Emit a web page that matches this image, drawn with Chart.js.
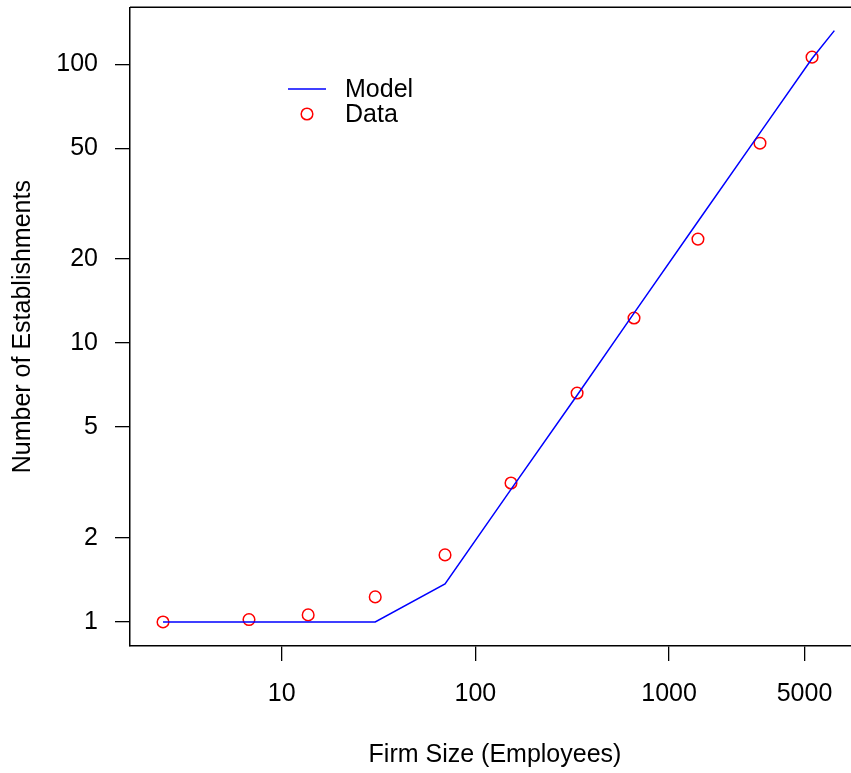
<!DOCTYPE html>
<html>
<head>
<meta charset="utf-8">
<script src="https://cdn.jsdelivr.net/npm/chart.js@4/dist/chart.umd.min.js"></script>
<style>
  html, body { margin: 0; padding: 0; background: #fff; overflow: hidden; }
  canvas { display: block; }
</style>
</head>
<body>
<canvas id="chart" width="851" height="773"></canvas>
<script>
// Observed establishments by firm size
const firmSize       = [2.44, 6.78, 13.7, 30.4, 69.7, 152.7, 335, 659, 1409, 2945, 5470];
const establishments = [1.00, 1.02, 1.06, 1.23, 1.74, 3.15, 6.62, 12.3, 23.6, 52.1, 106];

// Model curve
const modelSize  = [2.44, 6.78, 13.7, 30.4, 69.7, 152.7, 335, 659, 1409, 2945, 5470, 7130];
const modelValue = [1.00, 1.00, 1.00, 1.00, 1.37, 2.99, 6.50, 12.8, 27.3, 56.7, 104.8, 132];

// Axis tick labels
const xTicks = [10, 100, 1000, 5000];
const yTicks = [1, 2, 5, 10, 20, 50, 100];

const seriesNames = ['Model', 'Data'];
const xTitle = 'Firm Size (Employees)';
const yTitle = 'Number of Establishments';
const FONT = 'Liberation Sans, Arial, Helvetica, sans-serif';
const FONT_SIZE = 25;

Chart.defaults.color = '#000';
Chart.defaults.font.family = FONT;

const pairs = (xs, ys) => xs.map((x, i) => ({ x, y: ys[i] }));

// The plot box runs on past the right edge of the canvas: stretch the
// chart area and the x scale to the canvas edge after layout.
const boxPlugin = {
  id: 'box',
  afterLayout(chart) {
    const sx = chart.scales.x;
    const right = chart.width;
    chart.chartArea.right = right;
    chart.chartArea.width = right - chart.chartArea.left;
    sx.right = right;
    sx.width = right - sx.left;
    sx.configure();
  },
  afterDraw(chart) {
    const { ctx, chartArea } = chart;
    ctx.save();
    // top edge of the box
    ctx.strokeStyle = '#000';
    ctx.lineWidth = 1.5;
    ctx.beginPath();
    ctx.moveTo(chartArea.left, chartArea.top);
    ctx.lineTo(chartArea.right, chartArea.top);
    ctx.stroke();

    // x-axis title, centred under the whole box
    ctx.fillStyle = '#000';
    ctx.font = FONT_SIZE + 'px ' + FONT;
    ctx.textAlign = 'center';
    ctx.textBaseline = 'alphabetic';
    ctx.fillText(xTitle, (chartArea.left + chartArea.right + 9) / 2, chart.height - 11);

    // legend block
    const model = chart.data.datasets[0];
    const data = chart.data.datasets[1];
    const lx = 288, ly = 89, gap = 25, textX = 345;
    ctx.strokeStyle = model.borderColor;
    ctx.lineWidth = model.borderWidth;
    ctx.beginPath();
    ctx.moveTo(lx, ly);
    ctx.lineTo(lx + 38, ly);
    ctx.stroke();

    ctx.strokeStyle = data.borderColor;
    ctx.lineWidth = data.borderWidth;
    ctx.beginPath();
    ctx.arc(lx + 19, ly + gap, data.pointRadius, 0, Math.PI * 2);
    ctx.stroke();

    ctx.textBaseline = 'middle';
    ctx.textAlign = 'left';
    ctx.fillText(model.label, textX, ly + 1);
    ctx.fillText(data.label, textX, ly + gap + 1);
    ctx.restore();
  }
};

new Chart(document.getElementById('chart'), {
  type: 'scatter',
  data: {
    datasets: [
      {
        label: seriesNames[0],
        data: pairs(modelSize, modelValue),
        showLine: true,
        borderColor: '#0000ff',
        borderWidth: 1.5,
        pointRadius: 0,
        pointHoverRadius: 0,
        tension: 0,
        fill: false
      },
      {
        label: seriesNames[1],
        data: pairs(firmSize, establishments),
        showLine: false,
        borderColor: '#ff0000',
        backgroundColor: 'rgba(0,0,0,0)',
        borderWidth: 1.5,
        pointRadius: 5.8,
        pointStyle: 'circle'
      }
    ]
  },
  options: {
    responsive: false,
    animation: false,
    devicePixelRatio: 1,
    layout: { padding: { top: 7, right: 0, left: 0, bottom: 0 } },
    plugins: { legend: { display: false }, tooltip: { enabled: false } },
    scales: {
      x: {
        type: 'logarithmic',
        min: 1.648,
        max: 8690,
        afterBuildTicks: s => { s.ticks = xTicks.map(v => ({ value: v })); },
        afterFit: s => { s.height = 127; s.paddingLeft = 0; s.paddingRight = 0; },
        ticks: {
          callback: v => String(v),
          autoSkip: false,
          maxRotation: 0,
          padding: 18,
          color: '#000',
          font: { size: FONT_SIZE, family: FONT }
        },
        grid: { drawOnChartArea: false, drawTicks: true, tickLength: 15, color: '#000', lineWidth: 1.3 },
        border: { display: true, color: '#000', width: 1.5 },
        title: { display: false }
      },
      y: {
        type: 'logarithmic',
        min: 0.820,
        max: 160,
        afterBuildTicks: s => { s.ticks = yTicks.map(v => ({ value: v })); },
        afterFit: s => { s.width = 130; s.paddingTop = 0; s.paddingBottom = 0; },
        ticks: {
          callback: v => String(v),
          autoSkip: false,
          padding: 17,
          color: '#000',
          font: { size: FONT_SIZE, family: FONT }
        },
        grid: { drawOnChartArea: false, drawTicks: true, tickLength: 15, color: '#000', lineWidth: 1.3 },
        border: { display: true, color: '#000', width: 1.5 },
        title: {
          display: true,
          text: yTitle,
          color: '#000',
          font: { size: FONT_SIZE, family: FONT },
          padding: { top: 8, bottom: 0 }
        }
      }
    }
  },
  plugins: [boxPlugin]
});
</script>
</body>
</html>
